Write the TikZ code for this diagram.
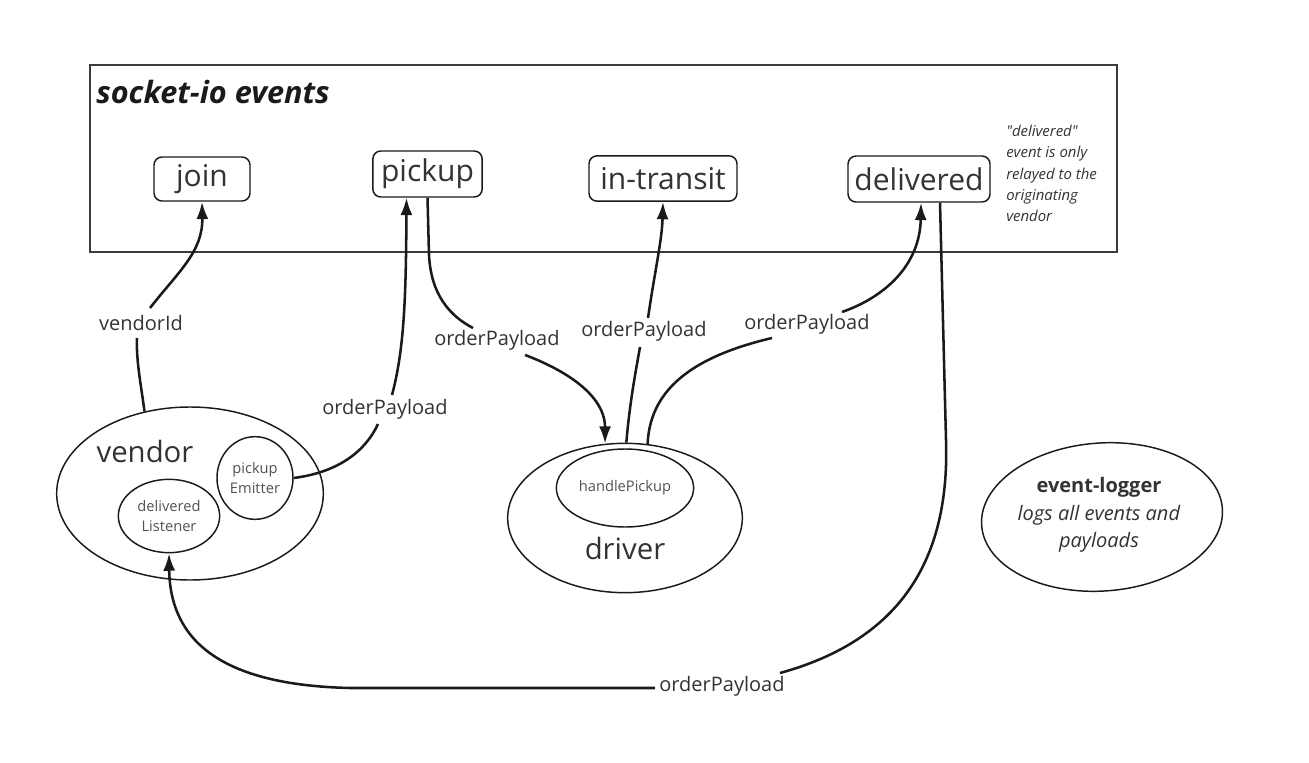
\documentclass[tikz,border=0pt]{standalone}
\usepackage{fontspec}
\setmainfont{Open Sans}
\newfontfamily\notefont{Open Sans}
\usetikzlibrary{arrows.meta,shapes.geometric,calc}
\definecolor{ink}{HTML}{1A1A1A}
\definecolor{txt}{HTML}{333333}
\begin{document}
\begin{tikzpicture}[x=0.75pt,y=-0.75pt,
  evbox/.style={draw=ink,line width=1.1pt,rounded corners=6pt,inner sep=0pt,font=\fontsize{22.5}{26}\selectfont,text=txt},
  oval/.style={draw=ink,line width=1.1pt,ellipse,inner sep=0pt},
  small/.style={font=\fontsize{11}{15}\selectfont,text=txt!85,align=center},
  lbl/.style={font=\fontsize{15}{17}\selectfont,text=txt,inner sep=1pt},
  conn/.style={line width=1.9pt,draw=ink},
  arr/.style={conn,-{Latex[length=13pt,width=9pt]}}]
\useasboundingbox (0,0) rectangle (1309,763);
\fill[white] (0,0) rectangle (1309,763);

% frame
\node[draw=ink!85,line width=1.2pt,minimum width=770.25pt,minimum height=140.25pt,inner sep=0pt] (frame) at (603.5,158.5) {};
\node[anchor=west,font=\fontsize{23}{26}\selectfont\bfseries\itshape,text=ink,inner sep=0pt] (title) at (96,92) {socket-io events};
\node[anchor=north west,align=left,font=\notefont\fontsize{11.2}{15.9}\selectfont\itshape,text=txt,inner sep=0pt] (note) at (1006,125) {"delivered"\\event is only\\relayed to the\\originating\\vendor};

% event boxes
\node[evbox,minimum width=72pt,minimum height=33pt] (join) at (202,179) {join};
\node[evbox,minimum width=82pt,minimum height=34.5pt] (pickup) at (427.5,174) {pickup};
\node[evbox,minimum width=111pt,minimum height=34pt] (intransit) at (663,178.5) {in-transit};
\node[evbox,minimum width=106.5pt,minimum height=34.5pt] (delivered) at (919,179) {delivered};

% vendor
\node[oval,minimum width=200pt,minimum height=129.75pt] (vendor) at (190,493.5) {};
\node[font=\fontsize{22}{26}\selectfont,text=txt,inner sep=0pt] (vendortext) at (145,451) {vendor};
\node[oval,minimum width=57pt,minimum height=62pt,small] (emitter) at (255,478) {pickup\\Emitter};
\node[oval,minimum width=76pt,minimum height=55pt,small] (listener) at (169,516) {delivered\\Listener};

% driver
\node[oval,minimum width=176pt,minimum height=112pt] (driver) at (625,518) {};
\node[oval,minimum width=103pt,minimum height=58.5pt,small] (handle) at (625,488) {handlePickup};
\node[font=\fontsize{22}{26}\selectfont,text=txt,inner sep=0pt] (drivertext) at (625,548) {driver};

% event logger
\node[oval,minimum width=181pt,minimum height=111pt,rotate=4] (logger) at (1102,517) {};
\node[align=center,font=\fontsize{15}{20.5}\selectfont,text=txt,inner sep=0pt] (loggertext) at (1099,515) {\textbf{event-logger}\\\textit{logs all events and}\\\textit{payloads}};

% labels
\node[lbl] (lA) at (141,323) {vendorId};
\node[lbl] (lB) at (385,409) {orderPayload};
\node[lbl] (lC) at (497,340) {orderPayload};
\node[lbl] (lD) at (644,331) {orderPayload};
\node[lbl] (lE) at (807,324) {orderPayload};
\node[lbl] (lF) at (722,686) {orderPayload};

% A: vendor -> join
\draw[conn] (vendor.119) .. controls (141,385) and (136,360) .. ($(lA.center)+(-4,15)$);
\draw[arr] ($(lA.center)+(9,-15)$) .. controls (178,272) and (203,252) .. (join.south);

% B: emitter -> pickup
\draw[conn] (emitter.east) .. controls (340,472) and (366,450) .. ($(lB.center)+(-7,15)$);
\draw[arr] ($(lB.center)+(7,-14)$) .. controls (404,350) and (406,300) .. ($(pickup.south)+(-21,0)$);

% C: pickup -> driver
\draw[conn] (pickup.south) -- (429,255) .. controls (431,295) and (450,316) .. ($(lC.center)+(-24,-12)$);
\draw[arr] ($(lC.center)+(28,15)$) .. controls (565,370) and (605,395) .. (driver.105);

% D: driver -> in-transit
\draw[conn] (driver.89) .. controls (630,400) and (636,370) .. ($(lD.center)+(-4,16)$);
\draw[arr] ($(lD.center)+(4,-13)$) .. controls (655,270) and (662,240) .. (intransit.south);

% E: driver -> delivered
\draw[conn] (driver.73) .. controls (650,385) and (700,355) .. ($(lE.center)+(-35,14)$);
\draw[arr] ($(lE.center)+(35,-12)$) .. controls (885,297) and (920,265) .. ($(delivered.south)+(2,0)$);

% F: delivered -> listener
\draw[conn] ($(delivered.south)+(21,0)$) -- (946,440) .. controls (950,560) and (900,640) .. ($(lF.center)+(58,-13)$);
\draw[arr] ($(lF.center)+(-67,2)$) -- (350,688) .. controls (220,685) and (170,640) .. (listener.south);
\end{tikzpicture}
\end{document}
